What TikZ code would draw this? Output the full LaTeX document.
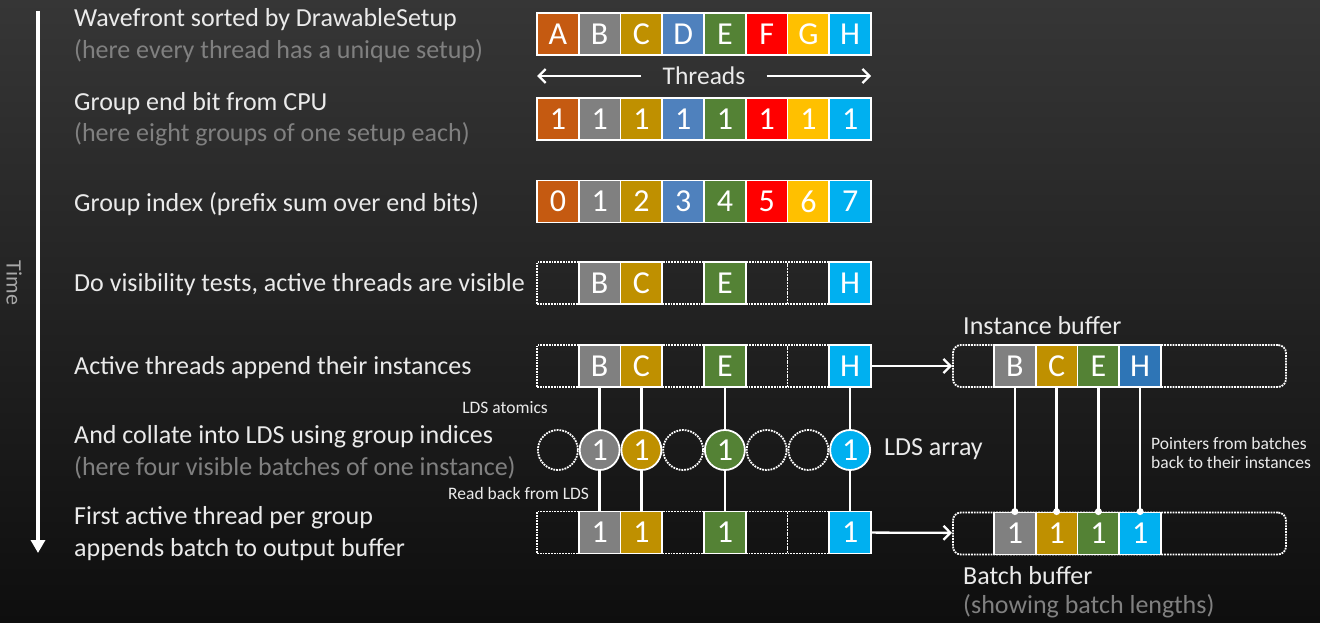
\documentclass[tikz,border=0pt]{standalone}
\usepackage{fontspec}
\setmainfont{Carlito}
\usetikzlibrary{arrows.meta}

\definecolor{bgtop}{HTML}{363636}
\definecolor{bgbot}{HTML}{0E0E0E}
\definecolor{txt}{HTML}{EAEAEA}
\definecolor{note}{HTML}{808080}
\definecolor{axis}{HTML}{A8A8A8}
\definecolor{cA}{HTML}{C55A11}
\definecolor{cB}{HTML}{808080}
\definecolor{cC}{HTML}{BF9000}
\definecolor{cD}{HTML}{4F81BD}
\definecolor{cE}{HTML}{548235}
\definecolor{cF}{HTML}{FF0000}
\definecolor{cG}{HTML}{FFC000}
\definecolor{cH}{HTML}{00B0F0}
\definecolor{cHi}{HTML}{2E75B6}

\tikzset{
  cellbox/.style={draw=white, line width=1.8pt, minimum width=41.75pt,
    minimum height=42pt, inner sep=0pt, text=white,
    font=\fontsize{32}{32}\selectfont},
  emptybox/.style={draw=white, densely dotted, line width=1.8pt,
    minimum width=41.75pt, minimum height=42pt, inner sep=0pt},
  ldsfull/.style={circle, draw=white, line width=1.8pt, minimum size=40pt,
    inner sep=0pt, text=white, font=\fontsize{32}{32}\selectfont},
  ldsempty/.style={circle, draw=white, densely dotted, line width=1.8pt,
    minimum size=40pt, inner sep=0pt},
  bufbox/.style={draw=white, densely dotted, line width=1.8pt,
    rounded corners=8pt, minimum width=333pt, minimum height=42pt},
  steptext/.style={anchor=base west, inner sep=0pt, text=txt,
    font=\fontsize{26}{26}\selectfont},
  notetext/.style={steptext, text=note},
  smalltext/.style={inner sep=0pt, text=txt, font=\fontsize{17.5}{17.5}\selectfont},
  midtext/.style={inner sep=0pt, text=txt, font=\fontsize{26}{26}\selectfont},
  link/.style={draw=white, line width=2.3pt},
  flow/.style={link, -{Straight Barb[length=7pt,width=14pt,line width=2.3pt]}},
}

\begin{document}
\begin{tikzpicture}[x=1pt,y=-1pt]
% backdrop
\shade[top color=bgtop, bottom color=bgbot] (0,0) rectangle (1320,623);
\useasboundingbox (0,0) rectangle (1320,623);

% time axis
\coordinate (t0) at (38,11);
\coordinate (t1) at (38,553);
\draw[white, line width=3.8pt, -{Triangle[length=13pt,width=14pt]}] (t0) -- (t1);
\node[rotate=-90, text=axis, inner sep=0pt, font=\fontsize{22}{22}\selectfont]
  (time) at (14,283) {Time};

% step descriptions
\node[steptext] (s1a) at (74,27) {Wavefront sorted by DrawableSetup};
\node[notetext] (s1b) at (74,59) {(here every thread has a unique setup)};
\node[steptext] (s2a) at (74,111) {Group end bit from CPU};
\node[notetext] (s2b) at (74,142) {(here eight groups of one setup each)};
\node[steptext] (s3) at (74,211) {Group index (prefix sum over end bits)};
\node[steptext] (s4) at (74,291) {Do visibility tests, active threads are visible};
\node[steptext] (s5) at (74,374) {Active threads append their instances};
\node[steptext] (s6a) at (74,443) {And collate into LDS using group indices};
\node[notetext] (s6b) at (74,475) {(here four visible batches of one instance)};
\node[steptext] (s7a) at (74,524) {First active thread per group};
\node[steptext] (s7b) at (74,556) {appends batch to output buffer};

% wavefront, sorted by setup
\foreach \t/\c [count=\i from 0] in {A/cA,B/cB,C/cC,D/cD,E/cE,F/cF,G/cG,H/cH}
  \node[cellbox, fill=\c] (w\i) at ({537+41.75*(\i+0.5)},34) {\t};

% thread direction
\coordinate (thl) at (537,76);
\coordinate (thr) at (871,76);
\node[midtext, inner xsep=21pt, font=\fontsize{25.5}{25.5}\selectfont] (threads) at (704,76) {Threads};
\draw[flow] (threads) -- (thl);
\draw[flow] (threads) -- (thr);

% group end bits
\foreach \c [count=\i from 0] in {cA,cB,cC,cD,cE,cF,cG,cH}
  \node[cellbox, fill=\c] (g\i) at ({537+41.75*(\i+0.5)},119) {1};

% group indices
\foreach \c [count=\i from 0] in {cA,cB,cC,cD,cE,cF,cG,cH}
  \node[cellbox, fill=\c] (x\i) at ({537+41.75*(\i+0.5)},201.5) {\i};

% visibility, active threads, LDS and output rows: empty slots first
\foreach \i in {0,3,5,6} {
  \node[emptybox] (v\i) at ({537+41.75*(\i+0.5)},283) {};
  \node[emptybox] (a\i) at ({537+41.75*(\i+0.5)},366) {};
  \node[ldsempty] (l\i) at ({537+41.75*(\i+0.5)},450) {};
  \node[emptybox] (o\i) at ({537+41.75*(\i+0.5)},532.5) {};
}
\foreach \i/\t/\c in {1/B/cB,2/C/cC,4/E/cE,7/H/cH} {
  \node[cellbox, fill=\c] (v\i) at ({537+41.75*(\i+0.5)},283) {\t};
  \node[cellbox, fill=\c] (a\i) at ({537+41.75*(\i+0.5)},366) {\t};
  \node[ldsfull, fill=\c] (l\i) at ({537+41.75*(\i+0.5)},450) {1};
  \node[cellbox, fill=\c] (o\i) at ({537+41.75*(\i+0.5)},532.5) {1};
  \draw[link] (a\i) -- (l\i);
  \draw[link] (l\i) -- (o\i);
}

\node[smalltext, anchor=east] (atom) at (548,408) {LDS atomics};
\node[smalltext, anchor=west] (readb) at (448,493) {Read back from LDS};
\node[midtext, anchor=west] (ldsarr) at (884,449) {LDS array};

% instance buffer
\node[bufbox] (ibuf) at (1119.5,366) {};
\foreach \t/\c [count=\i from 0] in {B/cB,C/cC,E/cE,H/cHi}
  \node[cellbox, fill=\c] (ib\i) at ({994+41.75*(\i+0.5)},366) {\t};
\node[midtext, anchor=west] (ibl) at (963,326) {Instance buffer};

% batch buffer
\node[bufbox] (bbuf) at (1119.5,533.5) {};
\foreach \c [count=\i from 0] in {cB,cC,cE,cH}
  \node[cellbox, fill=\c] (bb\i) at ({994+41.75*(\i+0.5)},533.5) {1};
\node[midtext, anchor=west] (bbl) at (963,576) {Batch buffer};
\node[midtext, anchor=west, text=note] (bbn) at (963,606) {(showing batch lengths)};

% appends into the buffers
\draw[flow] (a7) -- (ibuf);
\draw[flow] (o7) -- (bbuf);

% pointers from batches back to instances
\foreach \i in {0,...,3} {
  \draw[link] (ib\i) -- (bb\i.north);
  \fill[white] (bb\i.north) circle (3.5pt);
}
\node[smalltext, anchor=west, align=left] (ptr) at (1151,453)
  {Pointers from batches\\[2pt]back to their instances};
\end{tikzpicture}
\end{document}
